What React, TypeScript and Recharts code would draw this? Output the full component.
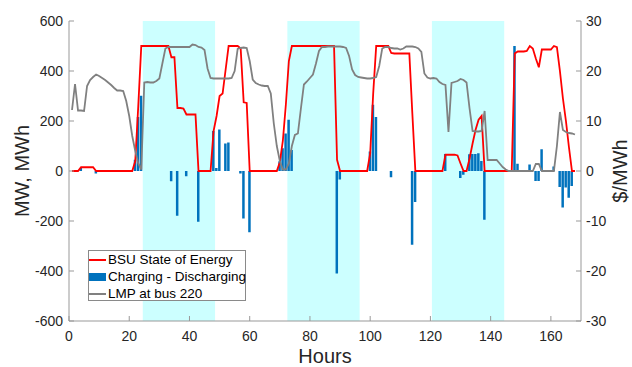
import { Bar, ComposedChart, Line, ReferenceArea, XAxis, YAxis } from "recharts";

// hourly values, hour 1..168
const soe = [
  0, 0, 0, 15, 15, 15, 15, 15, 0, 0, 0, 0,
  0, 0, 0, 0, 0, 0, 0, 0, 0, 40, 260, 500,
  500, 500, 500, 500, 500, 500, 500, 500, 500, 455, 455, 252,
  252, 250, 226, 226, 226, 226, 0, 0, 0, 0, 0, 160,
  220, 300, 310, 405, 500, 500, 500, 500, 490, 275, 272, 0,
  0, 0, 0, 0, 0, 0, 0, 0, 0, 35, 120, 265,
  440, 500, 500, 500, 500, 500, 500, 500, 500, 500, 500, 500,
  500, 500, 500, 500, 45, 0, 0, 0, 0, 0, 0, 0,
  0, 0, 0, 70, 310, 500, 500, 500, 500, 500, 472, 470,
  470, 470, 470, 470, 470, 230, 0, 0, 0, 0, 0, 0,
  0, 0, 0, 0, 65, 65, 65, 65, 62, 30, 0, 0,
  50, 110, 165, 205, 220, 0, 0, 0, 0, 0, 0, 0,
  0, 0, 0, 470, 478, 478, 478, 480, 500, 490, 450, 415,
  486, 486, 486, 486, 500, 495, 400, 290, 200, 95, 0, 0,
];

const lmp = [
  12.2, 17.4, 12.1, 12.1, 12.0, 17.0, 18.2, 18.8, 19.3, 19.0, 18.6, 18.2,
  17.7, 17.2, 16.6, 16.1, 16.1, 16.0, 14.0, 11.0, 7.0, 4.0, 1.5, 0.3,
  17.7, 17.8, 17.7, 17.7, 18.0, 18.5, 21.5, 24.5, 24.8, 24.8, 24.8, 24.8,
  24.8, 24.8, 24.8, 24.8, 25.3, 25.2, 24.8, 24.7, 24.2, 20.5, 18.6, 18.5,
  18.5, 18.5, 18.5, 18.5, 18.5, 18.6, 20.0, 24.4, 24.6, 24.7, 24.6, 22.0,
  18.3, 17.6, 17.3, 17.1, 17.0, 17.0, 15.5, 9.5, 5.0, 2.0, 0.3, 0.3,
  1.5, 5.0, 7.2, 7.5, 12.5, 17.3, 17.9, 18.6, 19.3, 21.5, 24.0, 24.8,
  24.8, 24.9, 24.9, 24.9, 24.9, 24.9, 24.8, 24.6, 23.0, 20.3, 19.2, 18.8,
  18.7, 18.6, 18.5, 18.5, 18.6, 18.8, 21.0, 24.5, 24.8, 24.8, 24.6, 24.5,
  24.5, 24.3, 24.5, 24.9, 24.9, 24.9, 24.8, 24.5, 23.8, 19.5, 18.7, 18.5,
  18.6, 18.5, 17.8, 17.4, 17.2, 7.8, 17.6, 17.8, 18.0, 18.4, 18.2, 17.7,
  12.5, 8.0, 7.9, 7.9, 8.0, 12.0, 2.2, 2.2, 2.2, 2.2, 1.5, 0.8,
  0.3, 0, 0, 0, 0, 0, 0, 0, 0, 0, 1.4, 1.4,
  0, 0, 0, 0, 0, 5.0, 11.8, 8.2, 7.8, 7.6, 7.5, 7.3,
];

const charge = [
  0, 0, 0, 12, 0, 0, 0, 0, -10, 0, 0, 0,
  0, 0, 0, 0, 0, 0, 0, 0, 0, 45, 216, 301,
  0, 0, 0, 0, 0, 0, 0, 0, 0, -41, 0, -179,
  0, 0, -21, 0, 0, 0, -203, 0, 0, 0, 0, 160,
  12, 166, 0, 110, 114, 0, 0, 0, -10, -190, 0, -245,
  0, 0, 0, 0, 0, 0, 0, 0, 0, 39, 91, 150,
  205, 84, 0, 0, 0, 0, 0, 0, 0, 0, 0, 0,
  0, 0, 0, 0, -410, -34, 0, 0, 0, 0, 0, 0,
  0, 0, 0, 78, 265, 216, 0, 0, 0, 0, -25, 0,
  0, 0, 0, 0, 0, -295, -124, 0, 0, 0, 0, 0,
  0, 0, 0, 0, 68, 0, 0, 0, 0, -28, -15, 0,
  67, 68, 68, 71, 40, -195, 0, 0, 0, 0, 0, 0,
  0, 0, 0, 500, 29, 0, 0, 0, 26, 0, -40, -40,
  87, 0, 0, 0, 18, 0, -64, -146, -66, -107, -60, 0,
];

const bands = [
  [24.5, 48.5],
  [72.5, 96.5],
  [120.5, 144.5],
];
const hourTicks = [0, 20, 40, 60, 80, 100, 120, 140, 160];
const mwTicks = [-600, -400, -200, 0, 200, 400, 600];
const priceTicks = [-30, -20, -10, 0, 10, 20, 30];

const data = soe.map((v, i) => ({ h: i + 1, soe: v, lmp: lmp[i], charge: charge[i] }));

const FONT = "'Liberation Sans', Arial, sans-serif";
const AXIS = "#999999";
const TXT = "#262626";
const tickStyle = { fill: TXT, fontSize: 14, fontFamily: FONT };
const labelStyle = { fill: TXT, fontSize: 20, fontFamily: FONT };

function LegendBox() {
  const row = { display: "flex", alignItems: "center", height: 17, whiteSpace: "nowrap" } as const;
  const sample = { width: 17, marginRight: 2, flex: "none" } as const;
  return (
    <div style={{
      position: "absolute", left: 88, top: 250, width: 158, height: 51, boxSizing: "border-box",
      background: "#fff", border: "1px solid #8a8a8a", fontFamily: FONT,
      fontSize: 13.5, color: "#000", lineHeight: "17px", overflow: "visible",
    }}>
      <div style={row}><span style={{ ...sample, height: 2, background: "#ff0000" }} />BSU State of Energy</div>
      <div style={row}><span style={{ ...sample, height: 8, background: "#0072bd" }} />Charging - Discharging</div>
      <div style={row}><span style={{ ...sample, height: 2, background: "#808080" }} />LMP at bus 220</div>
    </div>
  );
}

export default function App() {
  return (
    <div style={{ position: "absolute", left: 0, top: 0, width: 632, height: 367, background: "#fff" }}>
      <ComposedChart width={632} height={367} data={data} margin={{ top: 21, right: 0, bottom: 0, left: 0 }}>
        {bands.map(([a, b]) => (
          <ReferenceArea key={a} yAxisId="left" x1={a} x2={b} y1={-600} y2={600}
            fill="#ccffff" fillOpacity={1} stroke="none" />
        ))}
        <XAxis dataKey="h" type="number" domain={[0, 170]} ticks={hourTicks} height={46}
          stroke={AXIS} tickSize={-5} tickMargin={15} tick={tickStyle} interval={0}
          label={{ value: "Hours", position: "center", dy: 12, style: labelStyle }} />
        <XAxis xAxisId="top" orientation="top" dataKey="h" type="number" domain={[0, 170]}
          ticks={hourTicks} height={0} stroke={AXIS} tickSize={-5} tickFormatter={() => ""} />
        <YAxis yAxisId="left" domain={[-600, 600]} ticks={mwTicks} width={69} stroke={AXIS}
          tickSize={-5} tickMargin={11} tick={tickStyle} interval={0}
          label={{ value: "MW, MWh", angle: -90, position: "center", dx: -13, style: labelStyle }} />
        <YAxis yAxisId="right" orientation="right" domain={[-30, 30]} ticks={priceTicks} width={51}
          stroke={AXIS} tickSize={-5} tickMargin={10} tick={tickStyle} interval={0}
          label={{ value: "$/MWh", angle: -90, position: "center", dx: 13, style: labelStyle }} />
        <Bar yAxisId="left" dataKey="charge" fill="#0072bd" barSize={2.5} isAnimationActive={false} />
        <Line yAxisId="left" dataKey="soe" type="linear" stroke="#ff0000" strokeWidth={1.8}
          dot={false} isAnimationActive={false} />
        <Line yAxisId="right" dataKey="lmp" type="linear" stroke="#808080" strokeWidth={1.8}
          dot={false} isAnimationActive={false} />
      </ComposedChart>
      <LegendBox />
    </div>
  );
}
